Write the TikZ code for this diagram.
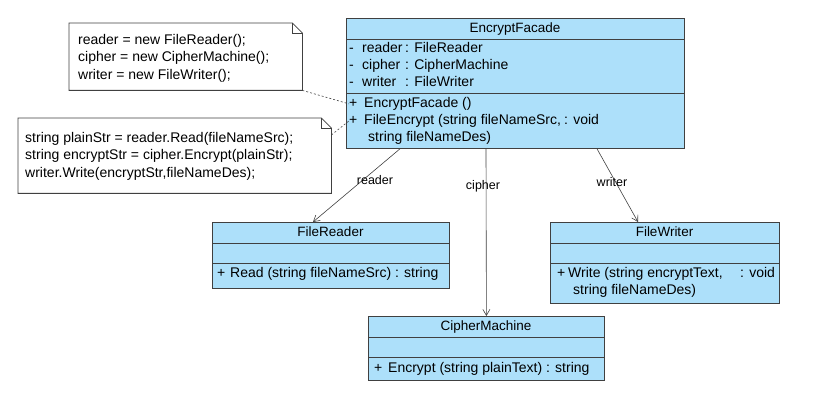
\documentclass[tikz,border=0pt]{standalone}
\usepackage{fontspec}
\setmainfont{Liberation Sans}
\usetikzlibrary{arrows.meta}
\definecolor{classblue}{RGB}{173,224,250}
\definecolor{edgegray}{RGB}{64,64,64}
\newcommand{\vis}[2][13pt]{\makebox[#1][l]{#2}}
\newcommand{\attr}[2]{\vis{-}\makebox[43pt][l]{#1}#2}
\tikzset{
  classbox/.style={draw=edgegray,fill=classblue,line width=0.8pt,inner sep=0pt,anchor=north west},
  notebox/.style={draw=none,inner sep=0pt,anchor=north west},
  txt/.style={anchor=base west,inner sep=0pt,font=\fontsize{14}{17}\selectfont},
  ttl/.style={anchor=base,inner sep=0pt,font=\fontsize{13.5}{17}\selectfont},
  role/.style={inner sep=0pt,font=\fontsize{12.5}{15}\selectfont},
  assoc/.style={draw=edgegray,line width=0.6pt,-{Straight Barb[length=6pt,width=7pt]}},
  anchorline/.style={draw=edgegray,line width=0.6pt,dash pattern=on 2pt off 2pt}
}
\begin{document}
\begin{tikzpicture}[x=1pt,y=-1pt]
\useasboundingbox (0,0) rectangle (817,401);
% notes
\node[notebox,minimum width=233pt,minimum height=67pt] (init) at (69,23) {};
\node[notebox,minimum width=313pt,minimum height=75pt] (plain) at (18,118) {};
\foreach \nt in {init,plain}{
  \draw[edgegray,line width=0.8pt,fill=white] (\nt.north west) -- ([xshift=-10pt]\nt.north east) -- ([yshift=-10pt]\nt.north east) -- (\nt.south east) -- (\nt.south west) -- cycle;
  \draw[edgegray,line width=0.6pt] ([xshift=-10pt]\nt.north east) -- ([xshift=-10pt,yshift=-10pt]\nt.north east) -- ([yshift=-10pt]\nt.north east);
}
\foreach \ln [count=\i] in {reader = new FileReader();, cipher = new CipherMachine();, writer = new FileWriter();}
  \node[txt] (init-\i) at (78,{27+17.5*\i}) {\ln};
\foreach \ln [count=\i] in {string plainStr = reader.Read(fileNameSrc);, string encryptStr = cipher.Encrypt(plainStr);, {writer.Write(encryptStr,fileNameDes);}}
  \node[txt] (plain-\i) at (25,{125+17.5*\i}) {\ln};
% classes
\node[classbox,minimum width=338pt,minimum height=130pt] (facade) at (346,18) {};
\node[classbox,minimum width=237pt,minimum height=66pt] (reader) at (212,222) {};
\node[classbox,minimum width=229pt,minimum height=81pt] (writer) at (550,222) {};
\node[classbox,minimum width=236pt,minimum height=64pt] (cipher) at (368,316) {};
\draw[edgegray,line width=0.8pt] ([yshift=-21pt]facade.north west) -- ([yshift=-21pt]facade.north east);
\draw[edgegray,line width=0.8pt] ([yshift=-75pt]facade.north west) -- ([yshift=-75pt]facade.north east);
\foreach \cl in {reader,writer,cipher}{
  \draw[edgegray,line width=0.8pt] ([yshift=-21pt]\cl.north west) -- ([yshift=-21pt]\cl.north east);
  \draw[edgegray,line width=0.8pt] ([yshift=-41pt]\cl.north west) -- ([yshift=-41pt]\cl.north east);
}
\node[ttl] (facade-name) at (515,32.5) {EncryptFacade};
\node[txt] (facade-a1) at (349,52.5) {\attr{reader}{: FileReader}};
\node[txt] (facade-a2) at (349,69.5) {\attr{cipher}{: CipherMachine}};
\node[txt] (facade-a3) at (349,86.5) {\attr{writer}{: FileWriter}};
\node[txt] (facade-m1) at (349,107.5) {\vis[15pt]{+}EncryptFacade ()};
\node[txt] (facade-m2) at (349,124.5) {\makebox[215pt][l]{\vis[15pt]{+}FileEncrypt (string fileNameSrc,}: void};
\node[txt] (facade-m3) at (368,141.5) {string fileNameDes)};
\node[ttl] (reader-name) at (330.5,236.5) {FileReader};
\node[txt] (reader-m1) at (217,277.5) {\vis{+}Read (string fileNameSrc) : string};
\node[ttl] (writer-name) at (664.5,236.5) {FileWriter};
\node[txt] (writer-m1) at (557,277.5) {\makebox[183pt][l]{\vis[11pt]{+}Write (string encryptText,}: void};
\node[txt] (writer-m2) at (573,294.5) {string fileNameDes)};
\node[ttl] (cipher-name) at (486,330.5) {CipherMachine};
\node[txt] (cipher-m1) at (374,372.5) {\vis[14pt]{+}Encrypt (string plainText) : string};
% connectors
\draw[anchorline] (init.south east) -- (facade-m1.west);
\draw[anchorline] ([yshift=-17pt]plain.north east) -- (facade-m2.west);
\draw[assoc] ([xshift=54pt]facade.south west) -- ([xshift=101pt]reader.north west);
\draw[assoc] ([xshift=140pt]facade.south west) -- (cipher.north);
\draw[assoc] ([xshift=251pt]facade.south west) -- ([xshift=88pt]writer.north west);
\node[role] (reader-role) at (375,180) {reader}; \node[role] (cipher-role) at (483,186) {cipher}; \node[role] (writer-role) at (612,182) {writer};
\end{tikzpicture}
\end{document}
